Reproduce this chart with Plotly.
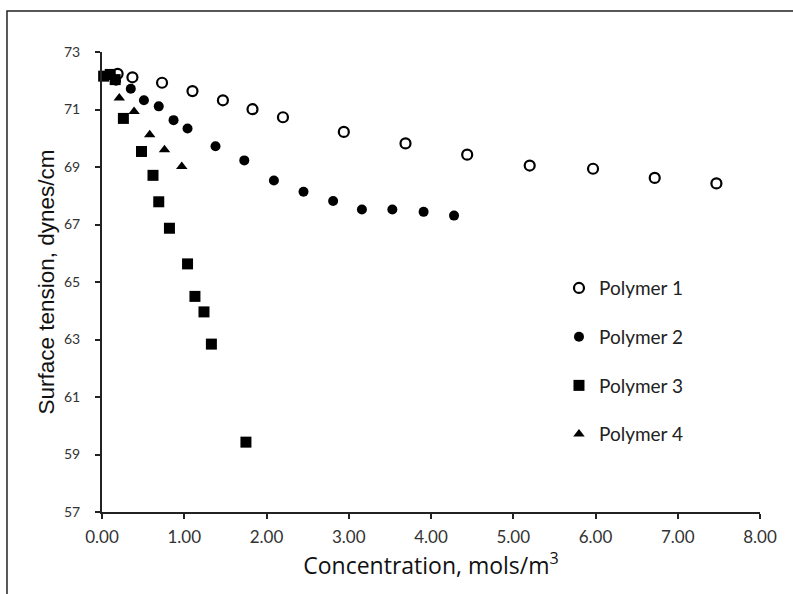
import plotly.graph_objects as go

# Polymer 1 (open circles)
p1_x = [0.19, 0.37, 0.73, 1.10, 1.47, 1.83, 2.20, 2.94, 3.69, 4.44, 5.20, 5.97, 6.72, 7.47]
p1_y = [72.24, 72.12, 71.93, 71.64, 71.32, 71.01, 70.73, 70.22, 69.82, 69.43, 69.05, 68.94, 68.62, 68.43]

# Polymer 2 (filled circles)
p2_x = [0.17, 0.35, 0.51, 0.69, 0.87, 1.04, 1.38, 1.73, 2.09, 2.45, 2.81, 3.16, 3.53, 3.91, 4.28]
p2_y = [72.0, 71.72, 71.32, 71.11, 70.63, 70.34, 69.72, 69.23, 68.53, 68.14, 67.82, 67.52, 67.52, 67.44, 67.31]

# Polymer 3 (squares)
p3_x = [0.02, 0.10, 0.16, 0.26, 0.48, 0.62, 0.69, 0.82, 1.04, 1.13, 1.24, 1.33, 1.75]
p3_y = [72.16, 72.22, 72.04, 70.69, 69.54, 68.71, 67.79, 66.87, 65.63, 64.50, 63.96, 62.84, 59.43]

# Polymer 4 (triangles)
p4_x = [0.21, 0.39, 0.58, 0.76, 0.97]
p4_y = [71.40, 70.93, 70.12, 69.60, 69.02]

x_ticks = [0, 1, 2, 3, 4, 5, 6, 7, 8]
x_tick_labels = ["0.00", "1.00", "2.00", "3.00", "4.00", "5.00", "6.00", "7.00", "8.00"]
y_ticks = [57, 59, 61, 63, 65, 67, 69, 71, 73]

series = [
    ("Polymer 1", p1_x, p1_y, dict(symbol="circle-open", size=10, color="black", line=dict(width=2.2, color="black"))),
    ("Polymer 2", p2_x, p2_y, dict(symbol="circle", size=10, color="black")),
    ("Polymer 3", p3_x, p3_y, dict(symbol="square", size=11, color="black")),
    ("Polymer 4", p4_x, p4_y, dict(symbol="triangle-up", size=10, color="black")),
]

fig = go.Figure()
for i, (name, xs, ys, mk) in enumerate(series):
    fig.add_trace(go.Scatter(x=xs, y=ys, mode="markers", name=name, marker=mk,
                             legendgroup=f"g{i}", cliponaxis=False))

fig.update_layout(
    width=793, height=594,
    margin=dict(l=102, r=33, t=52, b=82),
    paper_bgcolor="white", plot_bgcolor="white",
    showlegend=True,
    legend=dict(x=0.6945, y=0.528, xanchor="left", yanchor="top",
                font=dict(family="Lato, Liberation Sans, sans-serif", size=19, color="#222"),
                tracegroupgap=21, traceorder="grouped", bgcolor="rgba(0,0,0,0)"),
    xaxis=dict(range=[0, 8], tickvals=x_ticks, ticktext=x_tick_labels,
               showgrid=False, zeroline=False, showline=True, linecolor="#222", linewidth=2,
               ticks="outside", ticklen=5, tickwidth=1.5, tickcolor="#222",
               ticklabelstandoff=4,
               tickfont=dict(family="Lato, sans-serif", size=17, color="#333"),
               title=dict(text="Concentration, mols/m<sup>3</sup>", standoff=8,
                          font=dict(family="Open Sans, Liberation Sans, sans-serif", size=23, color="#111"))),
    yaxis=dict(range=[57, 73], tickvals=y_ticks,
               showgrid=False, zeroline=False, showline=True, linecolor="#222", linewidth=2,
               ticks="outside", ticklen=5, tickwidth=1.5, tickcolor="#222",
               ticklabelstandoff=12,
               tickfont=dict(family="Lato, sans-serif", size=14, color="#333"),
               title=dict(text="Surface tension, dynes/cm", standoff=3,
                          font=dict(family="Liberation Sans, Arial, sans-serif", size=22.5, color="#111"))),
)

fig.add_shape(type="rect", xref="paper", yref="paper",
              x0=-0.1444, x1=1.2, y0=-0.4, y1=1.089,
              line=dict(color="#222", width=1.5), fillcolor="rgba(0,0,0,0)", layer="below")

fig.write_html("out.html")
